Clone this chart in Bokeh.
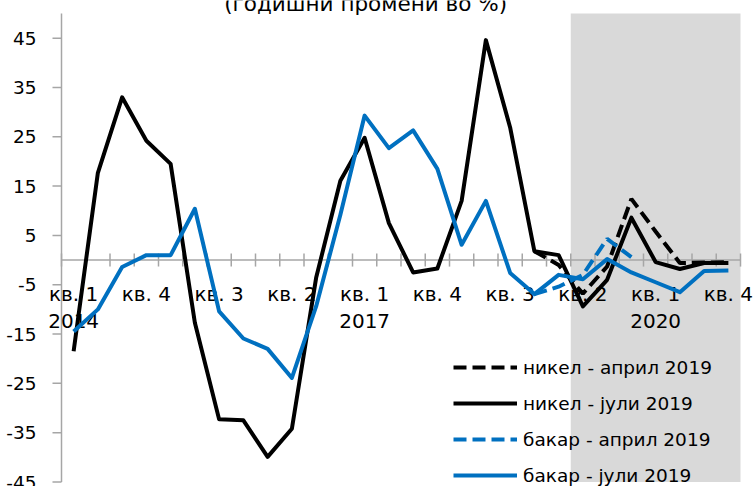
from bokeh.plotting import figure
from bokeh.models import Range1d, BoxAnnotation, Legend, LegendItem
from bokeh.core.properties import value
from bokeh.embed import file_html
from bokeh.resources import INLINE

# Quarters 2014 Q1 .. 2020 Q4 (index 0..27)
n_quarters = 28
tick_idx = [0, 3, 6, 9, 12, 15, 18, 21, 24, 27]
tick_labels = ["кв. 1", "кв. 4", "кв. 3", "кв. 2", "кв. 1", "кв. 4", "кв. 3", "кв. 2", "кв. 1", "кв. 4"]
year_idx = [0, 12, 24]
year_labels = ["2014", "2017", "2020"]
y_ticks = [-45, -35, -25, -15, -5, 5, 15, 25, 35, 45]
y_axis_min, y_axis_max = -45, 50
forecast_start = 21  # 2019 Q2
title_text = "(годишни промени во %)"

# Annual changes, %
nickel_jul = [-18.5, 17.7, 33.0, 24.2, 19.5, -12.7, -32.3, -32.5, -39.9, -34.2,
              -3.6, 16.1, 24.8, 7.5, -2.5, -1.7, 12.0, 44.6, 26.9, 1.8,
              1.0, -9.4, -4.0, 8.6, -0.4, -1.8, -0.6, -0.6]
nickel_apr_start = 19
nickel_apr = [1.8, -1.0, -6.8, -1.3, 12.4, 5.8, -0.6, -0.5, -0.4]
copper_jul = [-14.5, -10.0, -1.4, 1.0, 1.0, 10.4, -10.4, -15.9, -18.0, -23.9,
              -9.4, 9.2, 29.3, 22.7, 26.3, 18.5, 3.1, 12.0, -2.6, -6.9,
              -3.0, -3.9, 0.2, -2.5, -4.5, -6.5, -2.2, -2.1]
copper_apr_start = 19
copper_apr = [-6.9, -5.4, -3.0, 4.3, 0.6]

FONT = "DejaVu Sans"
BLUE = "#0070C0"
AXIS_GRAY = "#a6a6a6"

# page layout (pixels): the plotting area fills the page, the axes are drawn inside it
W, H = 755, 486
left_px, right_px = 61, 15
top_px, bottom_px = 13, 4.5
ppx = (W - left_px - right_px) / n_quarters
ppu = (H - top_px - bottom_px) / (y_axis_max - y_axis_min)
x_lo = -0.5 - left_px / ppx
x_hi = n_quarters - 0.5 + right_px / ppx
y_lo = y_axis_min - bottom_px / ppu
y_hi = y_axis_max + top_px / ppu
x_first, x_last = -0.5, n_quarters - 0.5

p = figure(width=W, height=H, output_backend="svg", toolbar_location=None,
           x_range=Range1d(x_lo, x_hi), y_range=Range1d(y_lo, y_hi),
           x_axis_location=None, y_axis_location=None,
           min_border_left=0, min_border_right=0, min_border_top=0, min_border_bottom=0)
p.grid.visible = False
p.outline_line_color = None
p.background_fill_color = "white"

# forecast period shading
p.add_layout(BoxAnnotation(left=forecast_start - 0.5, right=x_last, bottom=y_axis_min,
                           top=y_axis_max, fill_color="#d9d9d9", fill_alpha=1,
                           line_color=None, level="underlay"))

# vertical axis: line, ticks, labels
p.segment(x0=[x_first], x1=[x_first], y0=[y_axis_min], y1=[y_axis_max],
          line_color=AXIS_GRAY, line_width=1.5)
p.segment(x0=[x_first - 9 / ppx] * len(y_ticks), x1=[x_first] * len(y_ticks),
          y0=y_ticks, y1=y_ticks, line_color=AXIS_GRAY, line_width=1.5)
p.text(x=[x_first - 25 / ppx] * len(y_ticks), y=y_ticks, text=[str(t) for t in y_ticks],
       text_align="right", text_baseline="middle", text_font=value(FONT),
       text_font_size="18.5px", text_color="black")

# horizontal axis at zero with tick marks between quarters
p.segment(x0=[x_first], x1=[x_last], y0=[0], y1=[0], line_color=AXIS_GRAY, line_width=1.5)
bounds = [i - 0.5 for i in range(n_quarters + 1)]
p.segment(x0=bounds, x1=bounds, y0=[-6.5 / ppu] * len(bounds), y1=[6.5 / ppu] * len(bounds),
          line_color=AXIS_GRAY, line_width=1.5)
p.text(x=tick_idx, y=[-34 / ppu] * len(tick_idx), text=tick_labels, text_align="center",
       text_baseline="middle", text_font=value(FONT), text_font_size="20px", text_color="black")
p.text(x=year_idx, y=[-60.5 / ppu] * len(year_idx), text=year_labels, text_align="center",
       text_baseline="middle", text_font=value(FONT), text_font_size="20px", text_color="black")

# chart title, partly above the top edge
p.text(x=[12.04], y=[y_hi - 3.2 / ppu], text=[title_text], text_align="center",
       text_baseline="middle", text_font=value(FONT), text_font_size="21.5px", text_color="black")

x_all = list(range(n_quarters))
r_ni_apr = p.line(list(range(nickel_apr_start, nickel_apr_start + len(nickel_apr))), nickel_apr,
                  line_color="black", line_width=4, line_dash="13 6")
r_ni_jul = p.line(x_all, nickel_jul, line_color="black", line_width=4, line_join="round")
r_cu_apr = p.line(list(range(copper_apr_start, copper_apr_start + len(copper_apr))), copper_apr,
                  line_color=BLUE, line_width=4, line_dash="13 6")
r_cu_jul = p.line(x_all, copper_jul, line_color=BLUE, line_width=4, line_join="round")

legend = Legend(items=[
    LegendItem(label="никел - април 2019", renderers=[r_ni_apr]),
    LegendItem(label="никел - јули 2019", renderers=[r_ni_jul]),
    LegendItem(label="бакар - април 2019", renderers=[r_cu_apr]),
    LegendItem(label="бакар - јули 2019", renderers=[r_cu_jul]),
], location=(453, 0), orientation="vertical", background_fill_alpha=0, border_line_alpha=0,
    padding=0, margin=0, spacing=14, glyph_width=64, glyph_height=22, label_height=22,
    label_standoff=6, label_text_font=FONT, label_text_font_size="18.5px",
    label_text_color="black")
p.add_layout(legend)

open("out.html", "w").write(file_html(p, INLINE))
